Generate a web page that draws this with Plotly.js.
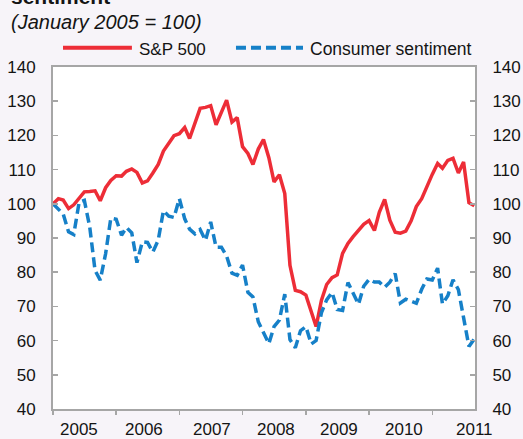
<!DOCTYPE html>
<html>
<head>
<meta charset="utf-8">
<script src="https://cdn.plot.ly/plotly-3.0.1.min.js"></script>
<style>
  html, body { margin: 0; padding: 0; background: #f7f4f9; }
  #chart { width: 523px; height: 439px; }
</style>
</head>
<body>
<div id="chart"></div>
<script>
// ---- Data (monthly, January 2005 = 100) ----
const startYear = 2005;
const yearLabels = ['2005', '2006', '2007', '2008', '2009', '2010', '2011'];

const sp500 = [
  100.0, 101.5, 101.1, 98.6, 99.7, 101.8, 103.5, 103.6, 103.8, 100.9, 104.7, 106.8,
  108.2, 108.1, 109.5, 110.2, 109.2, 106.1, 106.7, 109.0, 111.5, 115.4, 117.5, 119.9,
  120.5, 122.3, 119.1, 123.9, 127.9, 128.2, 128.7, 123.1, 126.7, 130.3, 123.9, 125.2,
  116.7, 114.7, 111.5, 116.0, 118.8, 113.5, 106.4, 108.5, 103.0, 82.0, 74.7, 74.3,
  73.3, 68.2, 64.1, 71.8, 76.4, 78.4, 79.2, 85.5, 88.4, 90.4, 92.1, 94.0,
  95.1, 92.2, 97.5, 101.3, 95.2, 91.7, 91.4, 92.0, 95.0, 99.2, 101.5, 105.1,
  108.6, 111.8, 110.4, 112.7, 113.3, 109.0, 112.2, 100.3, 99.4
];

const sentiment = [
  100.0, 98.5, 97.0, 91.8, 91.0, 100.5, 101.0, 93.3, 80.5, 77.7, 85.4, 95.8,
  95.5, 90.8, 93.1, 91.5, 82.8, 88.9, 88.7, 85.9, 89.4, 98.0, 96.4, 96.0,
  101.5, 95.6, 92.6, 91.2, 92.5, 89.3, 94.7, 87.3, 87.3, 84.7, 79.7, 79.1,
  82.1, 74.1, 72.8, 65.5, 62.6, 59.1, 64.1, 66.0, 73.6, 60.3, 57.9, 62.9,
  64.1, 59.0, 60.0, 68.2, 71.9, 74.1, 69.1, 68.8, 77.0, 73.9, 70.6, 75.9,
  77.9, 77.1, 77.1, 75.6, 77.1, 79.6, 71.0, 72.1, 71.4, 70.9, 75.0, 78.0,
  77.7, 81.2, 70.7, 73.1, 77.8, 74.9, 66.7, 58.3, 60.5
];

// monthly date axis, starting January 2005
const months = sp500.map((_, i) => {
  const y = startYear + Math.floor(i / 12);
  const m = (i % 12) + 1;
  return y + '-' + String(m).padStart(2, '0') + '-01';
});
const yearTicks = yearLabels.map(y => y + '-01-01');
// where the year labels sit along the axis (layout only)
const yearLabelPos = ['2005-05-31', '2006-06-09', '2007-07-06', '2008-07-10',
                      '2009-07-14', '2010-07-24', '2011-08-31'];

const RED = '#ed2d37';
const BLUE = '#1680c8';
const FRAME = '#a6a6a6';
const TXT = '#141414';
const FONT = 'Liberation Sans, Arial, Helvetica, sans-serif';

const traces = [
  {
    x: months, y: sp500, name: 'S&P 500', type: 'scatter', mode: 'lines',
    line: { color: RED, width: 3.5 }, xaxis: 'x', yaxis: 'y'
  },
  {
    x: months, y: sentiment, name: 'Consumer sentiment', type: 'scatter', mode: 'lines',
    line: { color: BLUE, width: 3.5, dash: '10px,5px' }, xaxis: 'x', yaxis: 'y2'
  }
];

const yCommon = {
  range: [40, 140], tick0: 40, dtick: 10,
  ticks: 'inside', ticklen: 5, tickwidth: 1.5, tickcolor: FRAME,
  showline: true, linecolor: FRAME, linewidth: 2,
  showgrid: false, zeroline: false,
  tickfont: { family: FONT, size: 17, color: TXT },
  ticklabelstandoff: 12, fixedrange: true
};

const annotations = yearLabels.map((t, i) => ({
  text: t, xref: 'x', yref: 'paper', x: yearLabelPos[i], y: -0.0614,
  xanchor: 'center', yanchor: 'middle', showarrow: false, borderpad: 0,
  font: { family: FONT, size: 17, color: TXT }
}));

annotations.push(
  { text: '<b>sentiment</b>', xref: 'paper', yref: 'paper', x: -0.104, y: 1.207,
    xanchor: 'left', yanchor: 'middle', showarrow: false,
    font: { family: FONT, size: 21, color: TXT } },
  { text: '<i>(January 2005 = 100)</i>', xref: 'paper', yref: 'paper', x: -0.104, y: 1.1316,
    xanchor: 'left', yanchor: 'middle', showarrow: false,
    font: { family: FONT, size: 20, color: TXT } },
  { text: 'S&P 500', xref: 'paper', yref: 'paper', x: 0.199, y: 1.0512,
    xanchor: 'left', yanchor: 'middle', showarrow: false,
    font: { family: FONT, size: 17, color: TXT } },
  { text: 'Consumer sentiment', xref: 'paper', yref: 'paper', x: 0.604, y: 1.0512,
    xanchor: 'left', yanchor: 'middle', showarrow: false,
    font: { family: FONT, size: 17.5, color: TXT } }
);

const shapes = [
  { type: 'line', xref: 'paper', yref: 'paper', x0: 0.0237, x1: 0.187, y0: 1.0564, y1: 1.0564,
    line: { color: RED, width: 4 } },
  { type: 'line', xref: 'paper', yref: 'paper', x0: 0.4336, x1: 0.5924, y0: 1.0564, y1: 1.0564,
    line: { color: BLUE, width: 4, dash: '10px,5px' } }
];

const layout = {
  width: 523, height: 439,
  margin: { l: 53, r: 48, t: 67, b: 30, pad: 0 },
  paper_bgcolor: '#f7f4f9', plot_bgcolor: '#ffffff',
  showlegend: false,
  font: { family: FONT, size: 17, color: TXT },
  xaxis: {
    type: 'date', range: ['2005-01-01', '2011-09-05'],
    tickmode: 'array', tickvals: yearTicks, showticklabels: false,
    ticks: 'outside', ticklen: 4, tickwidth: 1.5, tickcolor: FRAME,
    showline: true, linecolor: FRAME, linewidth: 2, mirror: true,
    showgrid: false, zeroline: false, fixedrange: true
  },
  yaxis: Object.assign({}, yCommon, { side: 'left' }),
  yaxis2: Object.assign({}, yCommon, { side: 'right', overlaying: 'y', anchor: 'x' }),
  annotations: annotations,
  shapes: shapes
};

Plotly.newPlot('chart', traces, layout, { displayModeBar: false, staticPlot: true });
</script>
</body>
</html>
